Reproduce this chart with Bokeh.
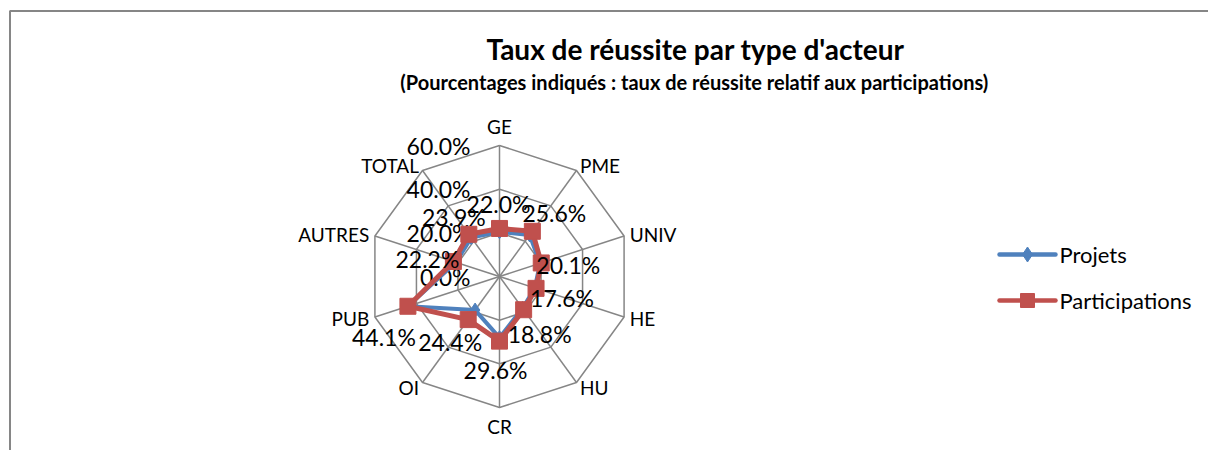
import math
from bokeh.plotting import figure
from bokeh.models import Range1d, ColumnDataSource
from bokeh.core.properties import value
from bokeh.embed import file_html
from bokeh.resources import INLINE

# ---------------- data ----------------
categories = ["GE", "PME", "UNIV", "HE", "HU", "CR", "OI", "PUB", "AUTRES", "TOTAL"]
participations = [22.0, 25.6, 20.1, 17.6, 18.8, 29.6, 24.4, 44.1, 22.2, 23.9]
projets = [20.5, 23.5, 19.5, 17.0, 18.0, 28.0, 19.0, 44.1, 21.0, 22.0]
radial_ticks = [0, 20, 40, 60]
tick_labels = ["0.0%", "20.0%", "40.0%", "60.0%"]
series_names = ["Projets", "Participations"]
title_text = "Taux de réussite par type d'acteur"
subtitle_text = "(Pourcentages indiqués : taux de réussite relatif aux participations)"

# ---------------- layout / style ----------------
W, H = 1208, 450
CX, CY = 499, H - 276      # radar centre
R = 131                    # radius of the outer ring
RMAX = 60.0
FONT = value("Lato")
GRID = "#868686"
BLUE = "#4F81BD"
RED = "#C0504D"
# data-label offsets (px, screen: +x right, +y down)
label_dx = [-1, 22, 27, 26, 16, -4, -18, -24, -26, -15]
label_dy = [-24, -18, 2, 10, 24, 29, 22, 31, -3, -17]

n = len(categories)
angles = [2 * math.pi * i / n for i in range(n)]


def polar(v, i):
    r = v / RMAX * R
    return CX + r * math.sin(angles[i]), CY + r * math.cos(angles[i])


p = figure(width=W, height=H, x_range=Range1d(0, W), y_range=Range1d(0, H),
           output_backend="svg", toolbar_location=None, min_border=0)
p.axis.visible = False
p.grid.visible = False
p.outline_line_color = None
p.background_fill_color = "white"
p.border_fill_color = "white"

# chart-area border (left and top only visible in the window)
p.line([9.5, 9.5, W], [0, H - 10.5, H - 10.5], line_color=GRID, line_width=2)

# title
p.text([695], [H - 48], text=[title_text], text_font=FONT, text_font_size="28px",
       text_font_style="bold", text_align="center", text_baseline="middle", text_color="black")
p.text([694], [H - 81], text=[subtitle_text], text_font=FONT, text_font_size="20px",
       text_font_style="bold", text_align="center", text_baseline="middle", text_color="black")

# grid rings
for t in radial_ticks[1:]:
    xs, ys = zip(*[polar(t, i) for i in range(n)])
    p.line(list(xs) + [xs[0]], list(ys) + [ys[0]], line_color=GRID, line_width=1.5)
# spokes
for i in range(n):
    x, y = polar(RMAX, i)
    p.line([CX, x], [CY, y], line_color=GRID, line_width=1.5)

# category labels
for i, c in enumerate(categories):
    s = math.sin(angles[i])
    if abs(s) < 0.01:
        d = 19
        align = "center"
    else:
        d = 6
        align = "left" if s > 0 else "right"
    x, y = polar(RMAX + d / R * RMAX, i)
    p.text([x], [y], text=[c], text_font=FONT, text_font_size="19px",
           text_align=align, text_baseline="middle", text_color="black")

# radial tick labels (along GE axis, right aligned left of it)
for t, lab in zip(radial_ticks, tick_labels):
    x, y = polar(t, 0)
    p.text([x - 29], [y], text=[lab], text_font=FONT, text_font_size="23px",
           text_align="right", text_baseline="middle", text_color="black")

# series
def closed(vals):
    pts = [polar(v, i) for i, v in enumerate(vals)]
    return [q[0] for q in pts], [q[1] for q in pts]

bx, by = closed(projets)
p.line(bx + [bx[0]], by + [by[0]], line_color=BLUE, line_width=4, line_join="round")
p.scatter(bx, by, marker="diamond", size=14, fill_color=BLUE, line_color=BLUE)

rx, ry = closed(participations)
p.line(rx + [rx[0]], ry + [ry[0]], line_color=RED, line_width=5, line_join="round")
p.scatter(rx, ry, marker="square", size=16, fill_color=RED, line_color=RED)

# data labels for participations
lab_src = ColumnDataSource(dict(
    x=[rx[i] + label_dx[i] for i in range(n)],
    y=[ry[i] - label_dy[i] for i in range(n)],
    t=["%.1f%%" % v for v in participations],
))
p.text("x", "y", text="t", source=lab_src, text_font=FONT, text_font_size="23px",
       text_align="center", text_baseline="middle", text_color="black")

# legend (drawn manually)
leg_y = [H - 254, H - 300]
for k, (name, col, mk, ms) in enumerate(zip(series_names, [BLUE, RED], ["diamond", "square"], [15, 14])):
    y = leg_y[k]
    p.line([999, 1055], [y, y], line_color=col, line_width=4.5, line_cap="round")
    p.scatter([1027], [y], marker=mk, size=ms, fill_color=col, line_color=col)
    p.text([1059], [y], text=[name], text_font=FONT, text_font_size="22px",
           text_align="left", text_baseline="middle", text_color="black")

open("out.html", "w").write(file_html(p, INLINE))
